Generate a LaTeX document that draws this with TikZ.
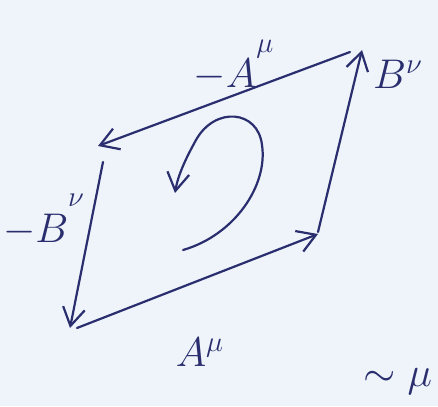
\documentclass[tikz,border=0pt]{standalone}
\usepackage{amsmath, amssymb}
\usepackage{xcolor}
\usepackage{tikz}
\usetikzlibrary{arrows.meta, positioning, calc}
\definecolor{PaperBlue}{RGB}{238, 244, 250}
\definecolor{InkBlue}{RGB}{42, 46, 110}

\tikzset{
  vecline/.style={draw=InkBlue, line width=1.1pt, line cap=round,
    -{Straight Barb[length=9pt, width=11pt, line width=1.1pt]}},
  lbl/.style={text=InkBlue, inner sep=0pt, font=\fontsize{22}{26}\selectfont}
}

\begin{document}
\begin{tikzpicture}[x=0.5pt, y=-0.5pt]
    \fill[PaperBlue] (0,0) rectangle (438,406);
    \useasboundingbox (0,0) rectangle (438,406);

    \coordinate (bl) at (70,328);
    \coordinate (br) at (318,234);
    \coordinate (tr) at (362,50);
    \coordinate (tl) at (98,146);
    \coordinate (tlb) at (103,162);
    \coordinate (brt) at (318,232);

    \draw[vecline] ($(bl)+(7,0)$) -- (br);
    \draw[vecline] (brt) -- (tr);
    \draw[vecline] ($(tr)+(-12,2)$) -- (tl);
    \draw[vecline] (tlb) -- (bl);

    \draw[vecline] (183,250) .. controls (235,235) and (268,185) .. (262,145)
      .. controls (258,110) and (215,106) .. (196,140)
      .. controls (186,158) and (178,175) .. (175,193);

    \node[lbl] (minusA) at (234,66) {$-A^{\raisebox{10pt}{$\scriptstyle\mu$}}$};
    \node[lbl] (Bnu) at (398,74) {$B^{\nu}$};
    \node[lbl] (minusB) at (44,220) {$-B^{\raisebox{10pt}{$\scriptstyle\nu$}}$};
    \node[lbl] (Amu) at (200,352) {$A^{\mu}$};
    \node[lbl] (tail) at (398,382) {$\sim\mu$};
  \end{tikzpicture}
\end{document}
